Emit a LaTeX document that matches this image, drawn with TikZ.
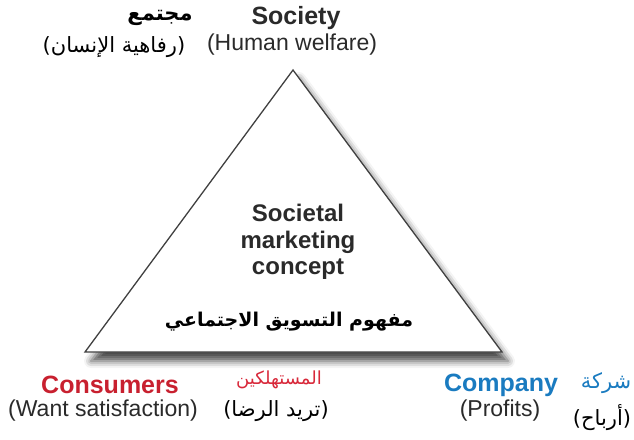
\documentclass[tikz,border=0pt]{standalone}
\usepackage{fontspec}
\usepackage{xcolor}
\setmainfont{Liberation Sans}
\newfontfamily\arabicfont[Script=Arabic]{DejaVu Sans}
\TeXXeTstate=1
\usetikzlibrary{shadows.blur}
\definecolor{consred}{HTML}{C8202F}
\definecolor{arred}{HTML}{D8283A}
\definecolor{compblue}{HTML}{1A7BC0}
\definecolor{textgray}{HTML}{2A2A2A}
\tikzset{
  head/.style={inner sep=0pt, text=textgray, font=\fontsize{25}{29}\selectfont\bfseries},
  sub/.style={inner sep=0pt, text=textgray, font=\fontsize{23}{27}\selectfont},
  arhead/.style={inner sep=0pt, font=\fontsize{21}{25}\selectfont\arabicfont\bfseries},
  arsub/.style={inner sep=0pt, font=\fontsize{21}{25}\selectfont\arabicfont},
}

\begin{document}
\begin{tikzpicture}[x=1pt,y=-1pt]
        \useasboundingbox (0,0) rectangle (634,439);
        \coordinate(top) at (293,70);
        \coordinate(left) at (85,352);
        \coordinate(right) at (502,352);
        \draw[line width=1.3pt, draw=black!75, fill=white, blur shadow={shadow xshift=6pt, shadow yshift=-9pt, shadow blur radius=7pt, shadow opacity=70}]
            (top)--(right)--(left)--cycle;
        \node[head](society) at (296,18) {Society};
        \node[sub](welfare) at (292,45) {(Human welfare)};
        \node[arhead](mujtama) at (160,18) {مجتمع};
        \node[arsub](rafahiya) at (114,47) {\beginR(رفاهية الإنسان)\endR};
        \node[head, align=center, font=\fontsize{24}{26.5}\selectfont\bfseries](concept) at (298,242) {Societal\\marketing\\concept};
        \node[arhead, font=\fontsize{19}{23}\selectfont\arabicfont\bfseries](mafhoom) at (289,322) {\beginR مفهوم التسويق الاجتماعي\endR};
        \node[head, text=consred](consumers) at (110,385) {Consumers};
        \node[sub](want) at (103,411) {(Want satisfaction)};
        \node[arsub, text=arred, font=\fontsize{18}{22}\selectfont\arabicfont](mustahlikin) at (279,380) {المستهلكين};
        \node[arsub](turid) at (276,411) {\beginR(تريد الرضا)\endR};
        \node[head, text=compblue](company) at (501,385) {Company};
        \node[sub](profits) at (500,411) {(Profits)};
        \node[arsub, text=compblue](sharika) at (606,383) {شركة};
        \node[arsub](arbah) at (602,418) {(أرباح)};
        \end{tikzpicture}
\end{document}
